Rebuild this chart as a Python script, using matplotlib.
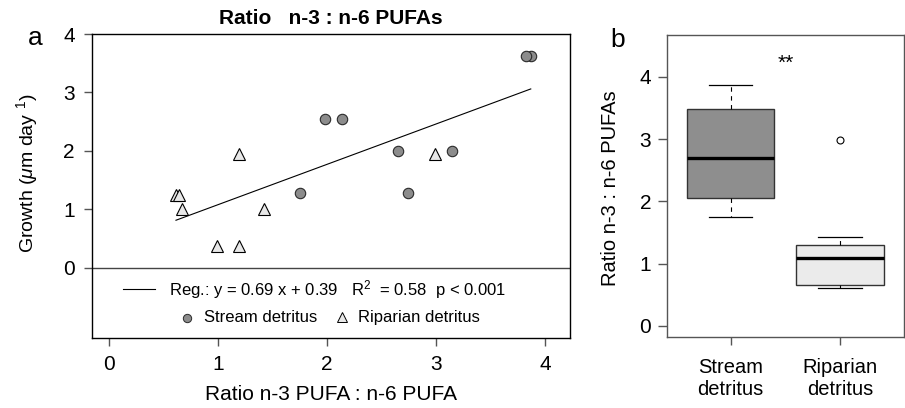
import numpy as np
import matplotlib.pyplot as plt

plt.rcParams['font.family'] = ['Liberation Sans', 'DejaVu Sans']
plt.rcParams['mathtext.fontset'] = 'custom'
plt.rcParams['mathtext.rm'] = 'Liberation Sans'
plt.rcParams['mathtext.it'] = 'Liberation Sans:italic'

# n-3 : n-6 PUFA ratio of the food (x) and growth of the grazers (y)
stream_ratio = [3.87, 3.83, 1.98, 2.14, 2.65, 3.15, 1.75, 2.74]
stream_growth = [3.62, 3.62, 2.54, 2.54, 2.00, 2.00, 1.28, 1.28]
riparian_ratio = [1.19, 2.99, 0.615, 0.645, 0.67, 1.42, 0.99, 1.19]
riparian_growth = [1.95, 1.95, 1.25, 1.25, 1.01, 1.01, 0.38, 0.38]

reg_slope = 0.69
reg_intercept = 0.39
reg_r2 = 0.58

groups = ['Stream\ndetritus', 'Riparian\ndetritus']


def fivenum(v):
    # Tukey hinges, like R's boxplot
    v = np.sort(np.asarray(v, dtype=float))
    n = len(v)
    n4 = np.floor((n + 3) / 2) / 2
    d = np.array([1, n4, (n + 1) / 2, n + 1 - n4, n]) - 1
    return 0.5 * (v[np.floor(d).astype(int)] + v[np.ceil(d).astype(int)])


def box_stats(v):
    v = np.asarray(v, dtype=float)
    lo, q1, med, q3, hi = fivenum(v)
    iqr = q3 - q1
    ok = (v >= q1 - 1.5 * iqr) & (v <= q3 + 1.5 * iqr)
    return dict(med=med, q1=q1, q3=q3, whislo=v[ok].min(),
                whishi=v[ok].max(), fliers=v[~ok])


W, H = 905, 408
fig = plt.figure(figsize=(W / 100, H / 100), dpi=100)


def fx(x):
    return x / W


def fy(y):
    return 1 - y / H


# ---- panel a: growth vs ratio
ax = fig.add_axes([fx(91.5), fy(338), fx(570 - 91.5), (338 - 34) / H])
ax.set_xlim(-0.16, 4.23)
ax.set_ylim(-1.2, 4.0)
ax.axhline(0, color='#444444', lw=1)

all_x = np.array(stream_ratio + riparian_ratio)
xfit = np.array([all_x.min(), all_x.max()])
ax.plot(xfit, reg_slope * xfit + reg_intercept, color='black', lw=0.8)

ax.plot(stream_ratio, stream_growth, 'o', ms=7.5, mfc='#8c8c8c',
        mec='#2a2a2a', mew=0.8, ls='none')
ax.plot(riparian_ratio, riparian_growth, '^', ms=9, mfc='#e8e8e8',
        mec='black', mew=0.8, ls='none')

ax.set_xticks([0, 1, 2, 3, 4])
ax.set_yticks([0, 1, 2, 3, 4])
ax.tick_params(length=6, width=1, color='#555555', pad=6, labelsize=15)
for s in ax.spines.values():
    s.set_linewidth(1)

# legend under the zero line
ax.plot([0.066, 0.133], [0.161, 0.161], transform=ax.transAxes,
        color='black', lw=0.8)
ax.text(0.162, 0.161,
        f'Reg.: y = {reg_slope:.2f} x + {reg_intercept:.2f}   R$^2$  = {reg_r2:.2f}  p < 0.001',
        transform=ax.transAxes, ha='left', va='center', fontsize=12)
ax.plot([0.1996], [0.066], 'o', ms=6, mfc='#8c8c8c', mec='#2a2a2a',
        mew=0.7, transform=ax.transAxes)
ax.text(0.235, 0.066, 'Stream detritus', transform=ax.transAxes,
        ha='left', va='center', fontsize=12)
ax.plot([0.523], [0.070], '^', ms=6.5, mfc='#e8e8e8', mec='black',
        mew=0.7, transform=ax.transAxes)
ax.text(0.557, 0.066, 'Riparian detritus', transform=ax.transAxes,
        ha='left', va='center', fontsize=12)

fig.text(fx(331), fy(18), 'Ratio   n-3 : n-6 PUFAs', fontsize=15,
         weight='bold', ha='center', va='center')
fig.text(fx(331), fy(395), 'Ratio n-3 PUFA : n-6 PUFA', fontsize=15,
         ha='center', va='center')
fig.text(fx(27), fy(173), r'Growth ($\mu$m day $^{1}$)', fontsize=14,
         rotation=90, ha='center', va='center')
fig.text(fx(35), fy(38), 'a', fontsize=19, ha='center', va='center')

# ---- panel b: boxplots of the ratio by food source
bx = fig.add_axes([fx(667), fy(337), fx(903.5 - 667), (337 - 34.7) / H])
parts = bx.bxp([box_stats(stream_ratio), box_stats(riparian_ratio)],
               positions=[1, 2], widths=0.8, capwidths=0.4,
               patch_artist=True,
               boxprops=dict(edgecolor='#333333', lw=1),
               medianprops=dict(color='black', lw=2.4),
               whiskerprops=dict(color='black', lw=0.8, ls=(0, (4, 4))),
               capprops=dict(color='black', lw=0.9),
               flierprops=dict(marker='o', ms=5, mfc='white',
                               mec='black', mew=0.8))
for box, col in zip(parts['boxes'], ['#8e8e8e', '#ebebeb']):
    box.set_facecolor(col)

bx.set_xlim(0.42, 2.58)
bx.set_ylim(-0.18, 4.68)
bx.set_yticks([0, 1, 2, 3, 4])
bx.set_xticks([1, 2])
bx.set_xticklabels(groups, fontsize=14.5)
bx.tick_params(axis='y', length=6.5, width=1, color='#555555', pad=5,
               labelsize=15)
bx.tick_params(axis='x', length=6, width=1, color='#555555', pad=9)
for s in bx.spines.values():
    s.set_color('#555555')
    s.set_linewidth(1)

bx.text(1.5, 4.22, '**', ha='center', va='center', fontsize=15)
fig.text(fx(610), fy(188), 'Ratio n-3 : n-6 PUFAs', fontsize=14.5,
         rotation=90, ha='center', va='center')
fig.text(fx(618), fy(40), 'b', fontsize=19, ha='center', va='center')

fig.savefig('out.png', dpi=100)
